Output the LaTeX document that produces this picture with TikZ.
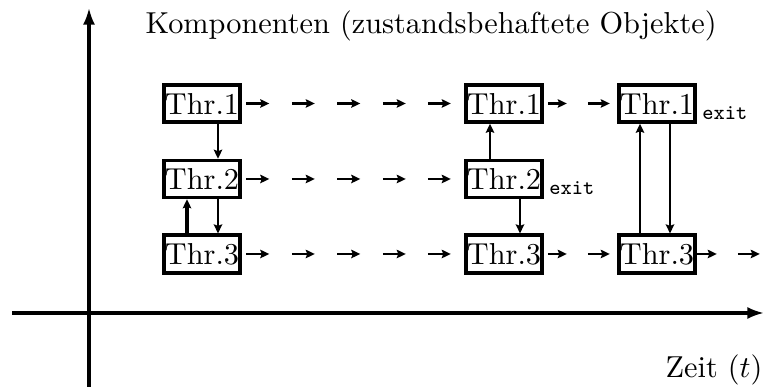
\documentclass[tikz,border=0pt]{standalone}
\usetikzlibrary{arrows.meta,calc}
\begin{document}
\begin{tikzpicture}[x=0.33pt,y=-0.33pt,
  thr/.style={draw,line width=1.2pt,inner xsep=0.3pt,inner ysep=2.6pt},
  flow/.style={line width=0.7pt,-{Stealth[length=3pt,width=2.8pt,inset=0.5pt]}},
  axis/.style={line width=1pt,-{Latex[length=5.5pt,width=4pt]}},
  exitlbl/.style={font=\scriptsize\ttfamily,anchor=base west,inner sep=0pt},
  lbl/.style={inner sep=0pt}]
\useasboundingbox (0,0) rectangle (764,387);

% axes
\coordinate (yb) at (89,387);
\coordinate (yt) at (89,8);
\coordinate (xl) at (12,313);
\coordinate (xr) at (764,313);
\draw[axis] (yb) -- (yt);
\draw[axis] (xl) -- (xr);
\node[lbl,anchor=base west] (ylbl) at (145,33.5) {Komponenten (zustandsbehaftete Objekte)};
\node[lbl,anchor=base east] (xlbl) at (763,378) {Zeit ($t$)};

% threads
\node[thr] (a1) at (202,103.5) {Thr.1};
\node[thr] (a2) at (202,179) {Thr.2};
\node[thr] (a3) at (202,254) {Thr.3};
\node[thr] (b1) at (504,103.5) {Thr.1};
\node[thr] (b2) at (504,179) {Thr.2};
\node[thr] (b3) at (504,254) {Thr.3};
\node[thr] (c1) at (657,103.5) {Thr.1};
\node[thr] (c3) at (657,254) {Thr.3};

\node[exitlbl] (b2x) at ($(b2.base east)+(5,5)$) {exit};
\node[exitlbl] (c1x) at ($(c1.base east)+(5,5)$) {exit};

% time lines
\foreach \r in {1,2,3}
  \foreach \s in {4.5,50,95.5,141,186}
    \draw[flow] ($(a\r.east)+(\s,0)$) -- ++(23,0);
\foreach \r in {1,3} {
  \draw[flow] ($(b\r.east)+(4,0)$) -- ++(19,0);
  \draw[flow] ($(b\r.east)+(44,0)$) -- ++(22,0);
}
\draw[flow] (c3.east) -- ++(20,0);
\draw[flow] ($(c3.east)+(41,0)$) -- ++(22,0);

% calls between threads
\draw[flow] ($(a1.south)+(16,0)$) -- ($(a2.north)+(16,0)$);
\draw[flow] ($(a2.south)+(16,0)$) -- ($(a3.north)+(16,0)$);
\draw[flow,line width=1pt] ($(a3.north)+(-15,0)$) -- ($(a2.south)+(-15,0)$);
\draw[flow] ($(b2.north)+(-14,0)$) -- ($(b1.south)+(-14,0)$);
\draw[flow] ($(b2.south)+(16,0)$) -- ($(b3.north)+(16,0)$);
\draw[flow] ($(c3.north)+(-17,0)$) -- ($(c1.south)+(-17,0)$);
\draw[flow] ($(c1.south)+(13,0)$) -- ($(c3.north)+(13,0)$);
\end{tikzpicture}
\end{document}
